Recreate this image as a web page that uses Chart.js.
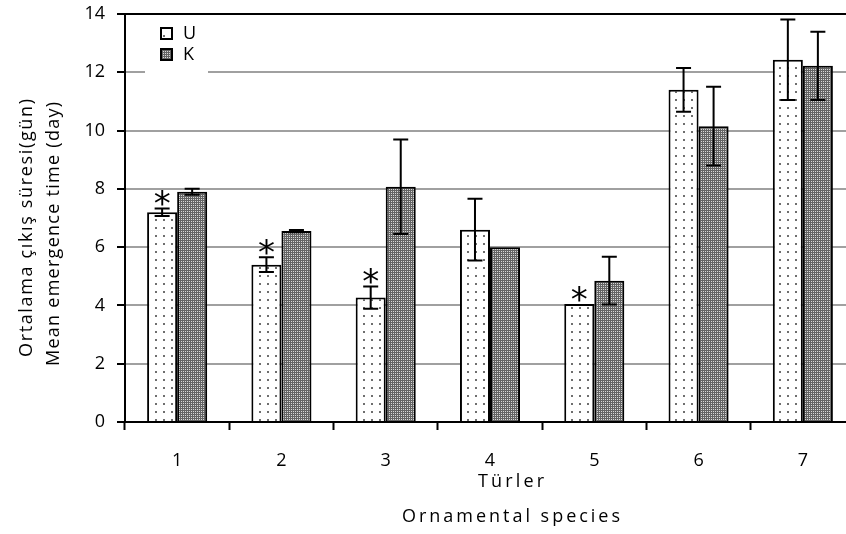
<!DOCTYPE html>
<html>
<head>
<meta charset="utf-8">
<script src="https://cdn.jsdelivr.net/npm/chart.js@4.4.1/dist/chart.umd.min.js"></script>
<style>
  html, body { margin: 0; padding: 0; background: #fff; overflow: hidden; }
  #grafico { display: block; }
</style>
</head>
<body>
<canvas id="grafico" width="870" height="534"></canvas>
<script>
// datos
const especies = ["1", "2", "3", "4", "5", "6", "7"];
const valoresU = [7.2, 5.4, 4.27, 6.6, 4.05, 11.4, 12.43];
const erroresU = [0.13, 0.25, 0.38, 1.06, 0, 0.75, 1.38];
const valoresK = [7.9, 6.55, 8.07, 6.0, 4.85, 10.15, 12.22];
const erroresK = [0.1, 0.04, 1.62, 0, 0.82, 1.35, 1.17];
const asteriscosU = [true, true, true, false, true, false, false];
const marcasY = [0, 2, 4, 6, 8, 10, 12, 14];

const tituloY = ["Ortalama çıkış süresi(gün)", "Mean emergence time (day)"];
const tituloX = ["Türler", "Ornamental species"];

const fuente = "'Open Sans', 'Noto Sans', sans-serif";

const crearPatron = (tam, pintar) => {
  const c = document.createElement("canvas");
  c.width = tam;
  c.height = tam;
  const g = c.getContext("2d");
  pintar(g);
  return document.getElementById("grafico").getContext("2d").createPattern(c, "repeat");
};

// puntos grises sobre blanco (U)
const patronU = crearPatron(8, (g) => {
  g.fillStyle = "#ffffff";
  g.fillRect(0, 0, 8, 8);
  g.fillStyle = "#6e6e6e";
  g.fillRect(3, 3, 2, 2);
});

// tramado gris oscuro con puntitos claros (K)
const patronK = crearPatron(2, (g) => {
  g.fillStyle = "#646464";
  g.fillRect(0, 0, 2, 2);
  g.fillStyle = "#d8d8d8";
  g.fillRect(1, 1, 1, 1);
});

// texto con ancho fijo (las etiquetas del original son espaciadas)
const textoEspaciado = (ctx, texto, x, y, ancho) => {
  ctx.letterSpacing = "0px";
  const natural = ctx.measureText(texto).width;
  const extra = (ancho - natural) / Math.max(texto.length - 1, 1);
  ctx.letterSpacing = extra.toFixed(2) + "px";
  ctx.fillText(texto, x + extra / 2, y);
  ctx.letterSpacing = "0px";
};

const barrasError = {
  id: "barrasError",
  afterDatasetsDraw(chart) {
    const ctx = chart.ctx;
    const y = chart.scales.y;
    ctx.save();
    ctx.strokeStyle = "#000";
    ctx.lineWidth = 2;
    chart.data.datasets.forEach((ds, i) => {
      const meta = chart.getDatasetMeta(i);
      meta.data.forEach((barra, j) => {
        const e = ds.errores[j];
        if (!e) return;
        const v = ds.data[j];
        const arriba = y.getPixelForValue(v + e);
        const abajo = y.getPixelForValue(v - e);
        ctx.beginPath();
        ctx.moveTo(barra.x, arriba);
        ctx.lineTo(barra.x, abajo);
        ctx.moveTo(barra.x - 7.5, arriba);
        ctx.lineTo(barra.x + 7.5, arriba);
        ctx.moveTo(barra.x - 7.5, abajo);
        ctx.lineTo(barra.x + 7.5, abajo);
        ctx.stroke();
      });
    });
    // asteriscos sobre U
    const metaU = chart.getDatasetMeta(0);
    ctx.fillStyle = "#000";
    ctx.font = "34px 'DejaVu Sans', sans-serif";
    ctx.textAlign = "center";
    ctx.textBaseline = "alphabetic";
    metaU.data.forEach((barra, j) => {
      if (!asteriscosU[j]) return;
      const tope = y.getPixelForValue(valoresU[j] + erroresU[j]);
      const m = ctx.measureText("*");
      const centro = (m.actualBoundingBoxAscent - m.actualBoundingBoxDescent) / 2;
      ctx.fillText("*", barra.x, tope - 10 + centro);
    });
    ctx.restore();
  },
};

const textos = {
  id: "textos",
  afterDraw(chart) {
    const ctx = chart.ctx;
    const area = chart.chartArea;
    ctx.save();
    ctx.fillStyle = "#000";
    ctx.textAlign = "center";
    ctx.textBaseline = "middle";
    ctx.font = "18px " + fuente;

    // titulo eje X
    textoEspaciado(ctx, tituloX[0], 511, 482, 66);
    textoEspaciado(ctx, tituloX[1], 511, 517, 218);

    // titulo eje Y (dos lineas giradas)
    const anchosY = [258, 264];
    const posY = [[27, 228], [54, 234]];
    tituloY.forEach((t, i) => {
      ctx.save();
      ctx.translate(posY[i][0], posY[i][1]);
      ctx.rotate(-Math.PI / 2);
      textoEspaciado(ctx, t, 0, 0, anchosY[i]);
      ctx.restore();
    });

    // leyenda dentro del area
    const lx = area.left + 20;
    const ly = area.top + 2;
    ctx.fillStyle = "#fff";
    ctx.fillRect(lx, ly, 63, 58);
    chart.data.datasets.forEach((ds, i) => {
      const sy = ly + 12 + i * 21;
      ctx.fillStyle = ds.backgroundColor;
      ctx.fillRect(lx + 16, sy, 11, 11);
      ctx.strokeStyle = "#000";
      ctx.lineWidth = 2;
      ctx.strokeRect(lx + 16, sy, 11, 11);
      ctx.fillStyle = "#000";
      ctx.textAlign = "left";
      ctx.font = "18px " + fuente;
      ctx.fillText(ds.label, lx + 38, sy + 6);
    });
    ctx.restore();
  },
};

const config = {
  type: "bar",
  data: {
    labels: especies,
    datasets: [
      {
        label: "U",
        data: valoresU,
        errores: erroresU,
        backgroundColor: patronU,
        borderColor: "#000",
        borderWidth: 2,
      },
      {
        label: "K",
        data: valoresK,
        errores: erroresK,
        backgroundColor: patronK,
        borderColor: "#000",
        borderWidth: 2,
      },
    ],
  },
  options: {
    responsive: false,
    animation: false,
    devicePixelRatio: 1,
    categoryPercentage: 0.576,
    barPercentage: 1,
    layout: { padding: { top: 14, right: 15, bottom: 0, left: 0 } },
    plugins: { legend: { display: false }, tooltip: { enabled: false } },
    scales: {
      x: {
        afterFit: (s) => { s.height = 112; },
        grid: {
          drawOnChartArea: false,
          offset: true,
          tickLength: 8,
          tickColor: "#000",
          tickWidth: 2,
        },
        border: { color: "#000", width: 2 },
        ticks: { color: "#000", font: { family: fuente, size: 18 }, padding: 20 },
      },
      y: {
        min: 0,
        max: 14,
        afterFit: (s) => {
          s.width = 125;
          s.paddingTop = 0;
          s.paddingBottom = 0;
        },
        afterBuildTicks: (s) => { s.ticks = marcasY.map((v) => ({ value: v })); },
        grid: {
          color: (c) => (c.tick && c.tick.value === 14 ? "#000" : "#a0a0a0"),
          lineWidth: 2,
          tickLength: 8,
          tickColor: "#000",
          tickWidth: 2,
        },
        border: { color: "#000", width: 2 },
        ticks: { color: "#000", font: { family: fuente, size: 18 }, padding: 12 },
      },
    },
  },
  plugins: [barrasError, textos],
};

const grafico = new Chart(document.getElementById("grafico"), config);
</script>
</body>
</html>
